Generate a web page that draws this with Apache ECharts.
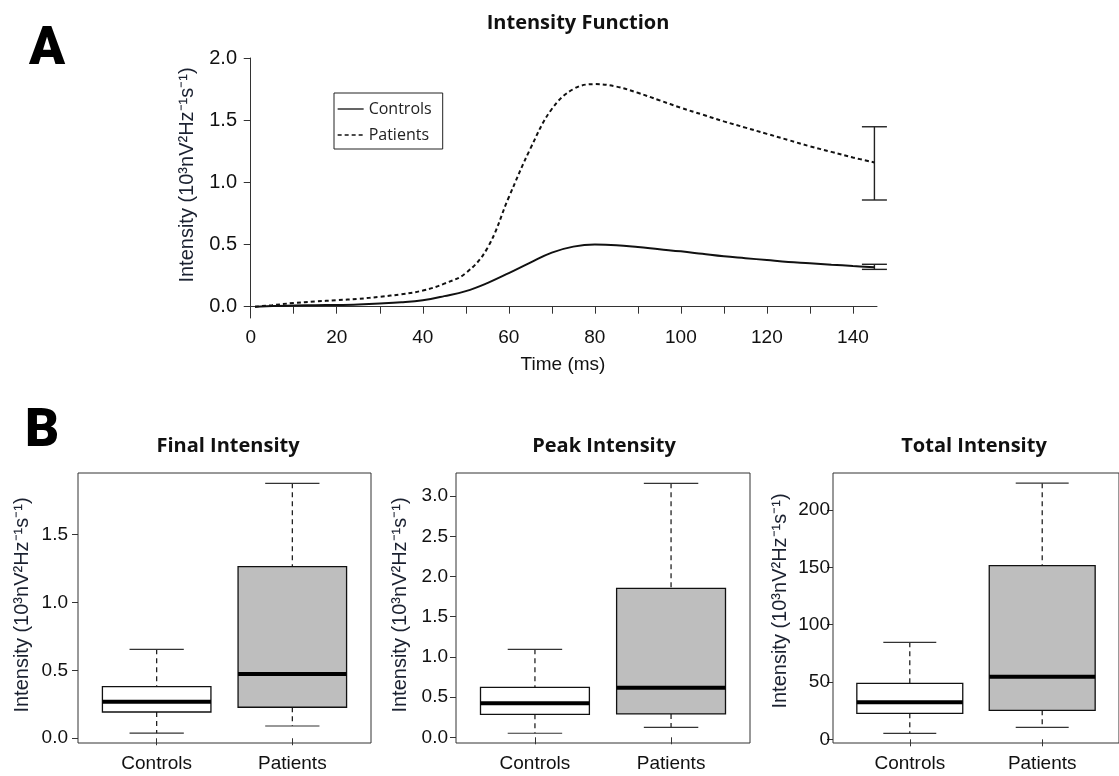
<!DOCTYPE html>
<html>
<head>
<meta charset="utf-8">
<script src="https://cdn.jsdelivr.net/npm/echarts@6/dist/echarts.min.js"></script>
<style>
html,body{margin:0;padding:0;background:#fff;}
#chart{width:1119px;height:776px;}
</style>
</head>
<body>
<div id="chart"></div>
<script>
// ---------- Panel A data ----------
const timeMs = [1,5,10,15,20,25,30,35,40,45,50,55,60,65,70,75,80,85,90,95,100,105,110,115,120,125,130,135,140,145];
const controlsMean = [0.0,0.005,0.01,0.012,0.014,0.018,0.025,0.035,0.052,0.085,0.125,0.19,0.27,0.355,0.435,0.483,0.50,0.495,0.48,0.462,0.445,0.425,0.405,0.39,0.375,0.36,0.35,0.338,0.327,0.318];
const patientsMean = [0.0,0.012,0.03,0.042,0.052,0.063,0.08,0.10,0.13,0.185,0.27,0.47,0.88,1.27,1.59,1.75,1.79,1.77,1.72,1.66,1.60,1.545,1.49,1.44,1.39,1.34,1.29,1.245,1.20,1.16];
const errorTime = 145;
const controlsErr = [0.300, 0.341];
const patientsErr = [0.858, 1.447];
const intensityTicks = [0, 0.5, 1.0, 1.5, 2.0];
const timeTicks = [0,10,20,30,40,50,60,70,80,90,100,110,120,130,140];
const timeLabels = [0,20,40,60,80,100,120,140];

// ---------- Panel B data: [min, Q1, median, Q3, max] ----------
const groups = ['Controls', 'Patients'];
const finalControls = [0.037, 0.193, 0.269, 0.379, 0.654];
const finalPatients = [0.090, 0.228, 0.473, 1.262, 1.875];
const peakControls = [0.050, 0.286, 0.423, 0.622, 1.094];
const peakPatients = [0.124, 0.290, 0.617, 1.853, 3.159];
const totalControls = [5.2, 22.7, 32.3, 48.8, 84.6];
const totalPatients = [10.5, 25.3, 54.6, 151.4, 223.3];
const finalTicks = [0, 0.5, 1.0, 1.5];
const peakTicks = [0, 0.5, 1.0, 1.5, 2.0, 2.5, 3.0];
const totalTicks = [0, 50, 100, 150, 200];

const yTitle = 'Intensity (10\u00B3nV\u00B2Hz\u207B\u00B9s\u207B\u00B9)';
const AX = 'Liberation Sans, Arial, sans-serif';
const TT = 'Open Sans, sans-serif';
const boxFills = ['#ffffff', '#bebebe'];

function boxData(c, p) {
  return [[1].concat(c), [2].concat(p)];
}

function boxRender(params, api) {
  const x = api.value(0);
  const pLo = api.coord([x, api.value(1)]);
  const pQ1 = api.coord([x, api.value(2)]);
  const pMed = api.coord([x, api.value(3)]);
  const pQ3 = api.coord([x, api.value(4)]);
  const pHi = api.coord([x, api.value(5)]);
  const half = api.size([0.4, 0])[0];
  const cap = half / 2;
  const cx = pMed[0];
  const dashed = {stroke: '#111', lineWidth: 1.2, lineDash: [5, 4]};
  const solid = {stroke: '#333', lineWidth: 1.2};
  return {
    type: 'group',
    children: [
      {type: 'line', shape: {x1: cx, y1: pHi[1], x2: cx, y2: pQ3[1]}, style: dashed},
      {type: 'line', shape: {x1: cx, y1: pQ1[1], x2: cx, y2: pLo[1]}, style: dashed},
      {type: 'line', shape: {x1: cx - cap, y1: pHi[1], x2: cx + cap, y2: pHi[1]}, style: solid},
      {type: 'line', shape: {x1: cx - cap, y1: pLo[1], x2: cx + cap, y2: pLo[1]}, style: solid},
      {type: 'rect', shape: {x: cx - half, y: pQ3[1], width: 2 * half, height: pQ1[1] - pQ3[1]},
        style: {fill: boxFills[params.dataIndex], stroke: '#111', lineWidth: 1.3}},
      {type: 'line', shape: {x1: cx - half, y1: pMed[1], x2: cx + half, y2: pMed[1]},
        style: {stroke: '#000', lineWidth: 4}}
    ]
  };
}

function errRender(params, api) {
  const x = api.value(0);
  const lo = api.coord([x, api.value(1)]);
  const hi = api.coord([x, api.value(2)]);
  const cap = 12.5;
  const st = {stroke: '#222', lineWidth: 1.4};
  return {
    type: 'group',
    children: [
      {type: 'line', shape: {x1: lo[0], y1: lo[1], x2: hi[0], y2: hi[1]}, style: st},
      {type: 'line', shape: {x1: lo[0] - cap, y1: lo[1], x2: lo[0] + cap, y2: lo[1]}, style: st},
      {type: 'line', shape: {x1: hi[0] - cap, y1: hi[1], x2: hi[0] + cap, y2: hi[1]}, style: st}
    ]
  };
}

function boxXAxis(idx) {
  return {
    type: 'value', gridIndex: idx, min: 0.42, max: 2.58,
    axisLine: {show: false},
    splitLine: {show: false},
    axisTick: {show: true, inside: false, length: 7, customValues: [1, 2], lineStyle: {color: '#333'}},
    axisLabel: {customValues: [1, 2], margin: 11, fontFamily: AX, fontSize: 19, color: '#111',
      formatter: v => groups[Math.round(v) - 1]}
  };
}
function boxYAxis(idx, min, max, ticks, margin, fmt) {
  return {
    type: 'value', gridIndex: idx, min: min, max: max,
    axisLine: {show: false},
    splitLine: {show: false},
    axisTick: {show: true, inside: false, length: 6, customValues: ticks, lineStyle: {color: '#333'}},
    axisLabel: {customValues: ticks, margin: margin, fontFamily: AX, fontSize: 19, color: '#111', formatter: fmt}
  };
}

const chart = echarts.init(document.getElementById('chart'), null, {renderer: 'canvas'});
const gridBorder = {show: true, borderColor: '#333', borderWidth: 1, backgroundColor: 'transparent'};
const letterFont = '900 53px Roboto, Liberation Sans, sans-serif';
const titleFont = 'bold 20px Open Sans, sans-serif';
const yTitleFont = '20px Liberation Sans, Arial, sans-serif';

chart.setOption({
  backgroundColor: '#ffffff',
  animation: false,
  legend: {
    show: true,
    left: 334, top: 93,
    orient: 'vertical',
    data: ['Controls', 'Patients'],
    borderColor: '#222', borderWidth: 1,
    padding: [8, 11, 6, 3],
    itemWidth: 26, itemHeight: 14, itemGap: 10,
    itemStyle: {opacity: 0},
    lineStyle: {width: 1.3},
    textStyle: {fontFamily: TT, fontSize: 16, color: '#222'},
    backgroundColor: '#fff'
  },
  grid: [
    {left: 249, right: 242, top: 58, bottom: 458, show: false},
    Object.assign({left: 78, right: 748, top: 473, bottom: 33}, gridBorder),
    Object.assign({left: 456, right: 369, top: 473, bottom: 33}, gridBorder),
    Object.assign({left: 833, right: -10, top: 473, bottom: 33}, gridBorder)
  ],
  xAxis: [
    {
      type: 'value', gridIndex: 0, min: -0.4, max: 145.6,
      name: 'Time (ms)', nameLocation: 'middle', nameGap: 37,
      nameTextStyle: {fontFamily: AX, fontSize: 19, color: '#111'},
      axisLine: {show: true, lineStyle: {color: '#333', width: 1}},
      splitLine: {show: false},
      axisTick: {show: true, inside: false, length: 7, customValues: timeTicks, lineStyle: {color: '#333'}},
      axisLabel: {customValues: timeLabels, margin: 10, fontFamily: AX, fontSize: 19, color: '#111'}
    },
    boxXAxis(1), boxXAxis(2), boxXAxis(3)
  ],
  yAxis: [
    {
      type: 'value', gridIndex: 0, min: -0.091, max: 2.0,
      axisLine: {show: true, lineStyle: {color: '#333', width: 1}},
      splitLine: {show: false},
      axisTick: {show: true, inside: false, length: 7, customValues: intensityTicks, lineStyle: {color: '#333'}},
      axisLabel: {customValues: intensityTicks, margin: 12, fontFamily: AX, fontSize: 20, color: '#111',
        formatter: v => v.toFixed(1)}
    },
    boxYAxis(1, -0.035, 1.951, finalTicks, 10, v => v.toFixed(1)),
    boxYAxis(2, -0.071, 3.287, peakTicks, 8, v => v.toFixed(1)),
    boxYAxis(3, -3.2, 232.2, totalTicks, 3, v => String(v))
  ],
  series: [
    {
      name: 'Controls', type: 'line', xAxisIndex: 0, yAxisIndex: 0,
      data: timeMs.map((t, i) => [t, controlsMean[i]]),
      smooth: 0.4, symbol: 'none', showSymbol: false,
      lineStyle: {color: '#111', width: 2, type: 'solid'},
      itemStyle: {color: '#111'}
    },
    {
      name: 'Patients', type: 'line', xAxisIndex: 0, yAxisIndex: 0,
      data: timeMs.map((t, i) => [t, patientsMean[i]]),
      smooth: 0.4, symbol: 'none', showSymbol: false,
      lineStyle: {color: '#111', width: 2, type: [4, 3]},
      itemStyle: {color: '#111'}
    },
    {
      type: 'custom', xAxisIndex: 0, yAxisIndex: 0,
      renderItem: errRender,
      data: [[errorTime, patientsErr[0], patientsErr[1]], [errorTime, controlsErr[0], controlsErr[1]]],
      encode: {x: 0, y: [1, 2]}, z: 3
    },
    {type: 'custom', xAxisIndex: 1, yAxisIndex: 1, renderItem: boxRender,
      data: boxData(finalControls, finalPatients), encode: {x: 0, y: [1, 2, 3, 4, 5]}},
    {type: 'custom', xAxisIndex: 2, yAxisIndex: 2, renderItem: boxRender,
      data: boxData(peakControls, peakPatients), encode: {x: 0, y: [1, 2, 3, 4, 5]}},
    {type: 'custom', xAxisIndex: 3, yAxisIndex: 3, renderItem: boxRender,
      data: boxData(totalControls, totalPatients), encode: {x: 0, y: [1, 2, 3, 4, 5]}}
  ],
  graphic: [
    {type: 'text', x: 29, y: 51, style: {text: 'A', font: letterFont, fill: '#000', align: 'left', verticalAlign: 'middle'}},
    {type: 'text', x: 25, y: 433, style: {text: 'B', font: letterFont, fill: '#000', align: 'left', verticalAlign: 'middle'}},
    {type: 'text', x: 578, y: 23, style: {text: 'Intensity Function', font: titleFont, fill: '#111', align: 'center', verticalAlign: 'middle'}},
    {type: 'text', x: 228, y: 446, style: {text: 'Final Intensity', font: titleFont, fill: '#111', align: 'center', verticalAlign: 'middle'}},
    {type: 'text', x: 604, y: 446, style: {text: 'Peak Intensity', font: titleFont, fill: '#111', align: 'center', verticalAlign: 'middle'}},
    {type: 'text', x: 974, y: 446, style: {text: 'Total Intensity', font: titleFont, fill: '#111', align: 'center', verticalAlign: 'middle'}},
    {type: 'text', x: 187, y: 175, rotation: Math.PI / 2, style: {text: yTitle, font: yTitleFont, fill: '#1b2130', align: 'center', verticalAlign: 'middle'}},
    {type: 'text', x: 22, y: 605, rotation: Math.PI / 2, style: {text: yTitle, font: yTitleFont, fill: '#1b2130', align: 'center', verticalAlign: 'middle'}},
    {type: 'text', x: 400, y: 605, rotation: Math.PI / 2, style: {text: yTitle, font: yTitleFont, fill: '#1b2130', align: 'center', verticalAlign: 'middle'}},
    {type: 'text', x: 780, y: 601, rotation: Math.PI / 2, style: {text: yTitle, font: yTitleFont, fill: '#1b2130', align: 'center', verticalAlign: 'middle'}}
  ]
});
</script>
</body>
</html>
